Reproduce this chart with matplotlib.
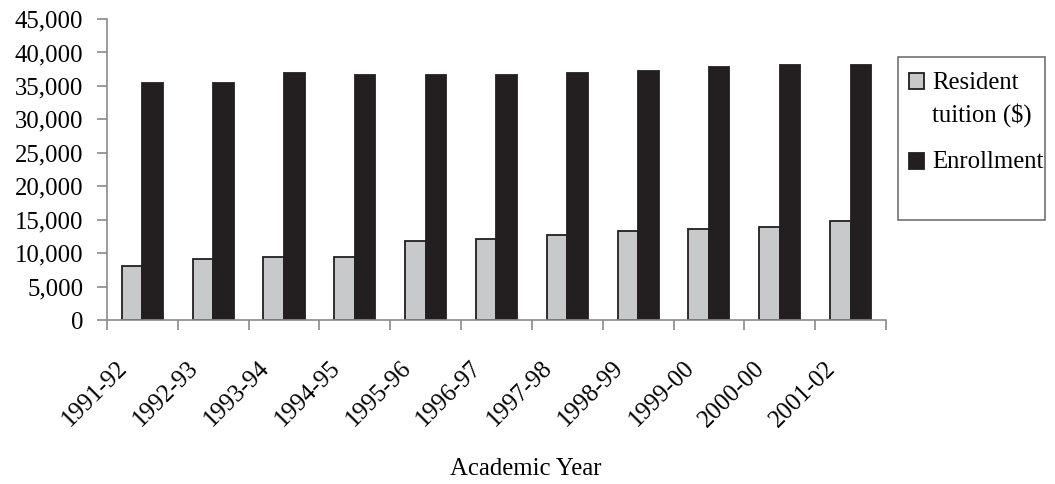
import numpy as np
import matplotlib.pyplot as plt
from matplotlib.patches import Rectangle
from matplotlib.transforms import ScaledTranslation

years = ["1991-92", "1992-93", "1993-94", "1994-95", "1995-96", "1996-97",
         "1997-98", "1998-99", "1999-00", "2000-00", "2001-02"]
tuition = [8100, 9050, 9350, 9350, 11750, 12050, 12650, 13250, 13550, 13850, 14800]
enrollment = [35400, 35400, 36900, 36600, 36600, 36600, 36900, 37200, 37800, 38100, 38100]
series_names = ["Resident", "tuition ($)", "Enrollment"]

plt.rcParams['font.family'] = ['Liberation Serif', 'DejaVu Serif']
fs = 17.8
grey = '#c8c9cb'
black = '#231f20'
axis_col = '#8a8a8a'

fig = plt.figure(figsize=(10.55, 4.84), dpi=100)
ax = fig.add_axes([0.1014, 0.3388, 0.7384, 0.6219])

x = np.arange(len(years))
w = 0.29
ax.bar(x - w / 2, tuition, w, color=grey, edgecolor=black, linewidth=1.3)
ax.bar(x + w / 2, enrollment, w, color=black, edgecolor=black, linewidth=1.3)

ax.set_xlim(-0.5, len(years) - 0.5)
ax.set_ylim(0, 45000)
ax.set_yticks(np.arange(0, 45001, 5000))
ax.set_yticklabels([f"{v:,}" for v in range(0, 45001, 5000)], fontsize=fs)

# category boundaries get the tick marks, centres get the labels
ax.set_xticks(np.arange(len(years) + 1) - 0.5)
ax.set_xticklabels([])
ax.set_xticks(x, minor=True)
ax.set_xticklabels(years, minor=True, rotation=45, ha='right', va='top',
                   rotation_mode='anchor', fontsize=fs)
ax.tick_params(axis='x', which='minor', length=0, pad=0)
ax.tick_params(axis='x', which='major', length=7, color=axis_col, width=1.2)
ax.tick_params(axis='y', length=7, color=axis_col, width=1.2, pad=10)
shift = ScaledTranslation(-0.26, -0.37, fig.dpi_scale_trans)
for lab in ax.get_xticklabels(minor=True):
    lab.set_transform(lab.get_transform() + shift)

for s in ['top', 'right']:
    ax.spines[s].set_visible(False)
for s in ['left', 'bottom']:
    ax.spines[s].set_color(axis_col)
    ax.spines[s].set_linewidth(1.2)

ax.set_xlabel("Academic Year", fontsize=fs)
ax.xaxis.set_label_coords(0.537, -0.46)

# legend drawn by hand so the marker lines up with the first text line
fig.patches.append(Rectangle((0.8512, 0.5455), 0.1393, 0.3368, transform=fig.transFigure,
                             facecolor='white', edgecolor='#666666', linewidth=1.1))
fig.patches.append(Rectangle((0.8616, 0.8161), 0.0142, 0.0331, transform=fig.transFigure,
                             facecolor=grey, edgecolor=black, linewidth=1.3))
fig.patches.append(Rectangle((0.8616, 0.6508), 0.0142, 0.0331, transform=fig.transFigure,
                             facecolor=black, edgecolor=black, linewidth=1.3))
fig.text(0.8834, 0.8161, series_names[0], fontsize=fs, va='baseline', ha='left')
fig.text(0.8834, 0.7486, series_names[1], fontsize=fs, va='baseline', ha='left')
fig.text(0.8834, 0.6523, series_names[2], fontsize=fs, va='baseline', ha='left')

fig.savefig("out.png", dpi=100)
